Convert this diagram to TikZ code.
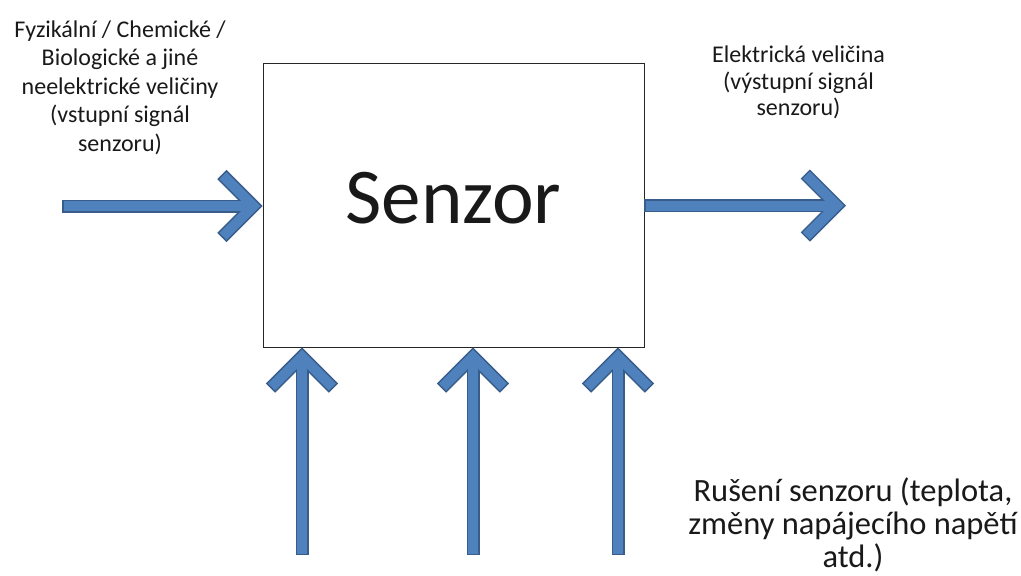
\documentclass[tikz,border=0pt]{standalone}
\usepackage{fontspec}
\setmainfont{Carlito}
\usetikzlibrary{calc}
\definecolor{arrowfill}{HTML}{4F81BD}
\definecolor{arrowline}{HTML}{385D8A}
\tikzset{
  arrowedge/.style={draw=arrowline, line width=13pt, line join=miter, line cap=butt},
  arrowbody/.style={draw=arrowfill, line width=10pt, line join=miter, line cap=butt},
  blockbox/.style={draw=black!85, line width=0.9pt, fill=white, rectangle,
    minimum width=381pt, minimum height=284pt, inner sep=0pt},
  caption/.style={align=center, inner sep=0pt, anchor=base, text=black!90},
}
% Block arrow with an open chevron head: #1 = tail, #2 = outer tip
\newcommand\chevarrow[2]{%
  \path ($(#2)!9.2pt!(#1)$) coordinate (chv)
        ($(chv)!44.5pt!135:(#2)$) coordinate (cha)
        ($(chv)!44.5pt!-135:(#2)$) coordinate (chb);
  \draw[arrowedge] (#1) -- (chv);
  \draw[arrowedge] (cha) -- (chv) -- (chb);
  \draw[arrowbody, shorten <=1.5pt] (#1) -- (chv);
  \draw[arrowbody, shorten <=1.5pt, shorten >=1.5pt] (cha) -- (chv) -- (chb);
}
\begin{document}
\begin{tikzpicture}[x=1pt, y=-1pt]
  \useasboundingbox[fill=white] (0,0) rectangle (1021,576);

  % sensor block
  \node[blockbox] (sensor) at (453.5,205) {};
  \node[caption, font=\fontsize{79}{90}\selectfont] (sensorname) at (453.5,223) {Senzor};

  % input signal (multi-line captions sit on the baseline of their last line)
  \coordinate (intail) at (62,206);
  \coordinate (intip) at (sensor.west |- intail);
  \chevarrow{intail}{intip}
  \node[caption, font=\fontsize{24}{28.5}\selectfont] (inlabel) at (120,151)
    {Fyzikální / Chemické /\\Biologické a jiné\\neelektrické veličiny\\(vstupní signál\\senzoru)};

  % output signal
  \coordinate (outtail) at (sensor.east |- 0,205.5);
  \coordinate (outtip) at (846,205.5);
  \chevarrow{outtail}{outtip}
  \node[caption, font=\fontsize{24}{26.5}\selectfont] (outlabel) at (798.5,115.5)
    {Elektrická veličina\\(výstupní signál\\senzoru)};

  % disturbances
  \foreach \x/\n in {302/a, 473/b, 618/c} {
    \coordinate (dtail\n) at (\x,555);
    \coordinate (dtip\n) at (sensor.south -| dtail\n);
    \chevarrow{dtail\n}{dtip\n}
  }
  \node[caption, font=\fontsize{32.5}{33}\selectfont] (noiselabel) at (853,567)
    {Rušení senzoru (teplota,\\změny napájecího napětí\\atd.)};
\end{tikzpicture}
\end{document}
